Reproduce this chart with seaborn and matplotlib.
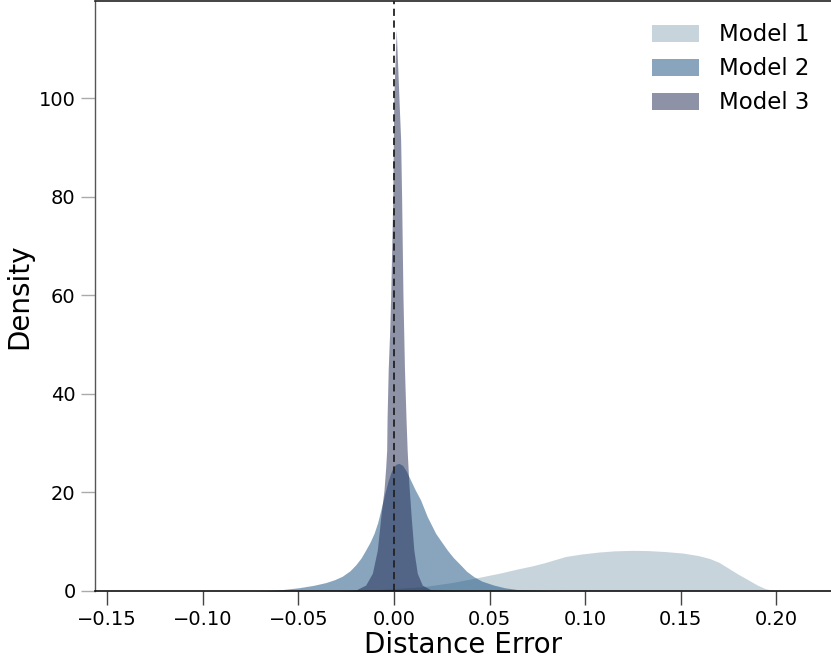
import matplotlib
matplotlib.use("Agg")
import matplotlib.pyplot as plt
import seaborn as sns
import pandas as pd
from matplotlib.patches import Patch

# ---- data (density curves) ----
model_names = ["Model 1", "Model 2", "Model 3"]

m1_x = [-0.03, -0.015, 0.0, 0.0157, 0.03, 0.0435, 0.055, 0.0650, 0.0723, 0.0784, 0.0897,
        0.098, 0.107, 0.1155, 0.1245, 0.133, 0.142, 0.151, 0.159, 0.165, 0.170, 0.175,
        0.18, 0.1855, 0.190, 0.194, 0.1994]
m1_y = [0.0, 0.15, 0.5, 0.9, 1.7, 2.7, 3.6, 4.5, 5.1, 5.7, 7.0,
        7.5, 7.9, 8.15, 8.25, 8.2, 8.0, 7.7, 7.2, 6.6, 5.8, 4.6,
        3.4, 2.2, 1.2, 0.5, 0.0]

m2_x = [-0.075, -0.067, -0.058, -0.0496, -0.042, -0.0357, -0.031, -0.027, -0.023, -0.020,
        -0.0172, -0.0148, -0.0125, -0.0104, -0.0085, -0.0069, -0.0055, -0.0043, -0.003,
        -0.0017, -0.0005, 0.001, 0.0026, 0.0045, 0.0065, 0.0087, 0.011, 0.0139, 0.0174,
        0.0218, 0.025, 0.0279, 0.031, 0.0348, 0.038, 0.0418, 0.046, 0.0522, 0.058, 0.0644,
        0.078, 0.09]
m2_y = [0.0, 0.05, 0.3, 0.67, 1.15, 1.7, 2.3, 3.0, 4.1, 5.3,
        6.7, 8.3, 9.9, 11.7, 13.9, 16.4, 18.6, 20.5, 22.4,
        23.9, 25.0, 25.7, 25.9, 25.5, 24.3, 22.5, 20.6, 18.5, 15.1,
        11.7, 9.9, 8.3, 6.8, 5.3, 4.0, 2.9, 2.0, 1.2, 0.65, 0.3,
        0.1, 0.0]

m3_x = [-0.030, -0.020, -0.0148, -0.0113, -0.0087, -0.0069, -0.0052, -0.0043, -0.0038,
        -0.0036, -0.0030, -0.0022, -0.0017, -0.0006, -0.0001, 0.0012, 0.0026, 0.0035,
        0.0040, 0.0047, 0.0055, 0.0063, 0.0069, 0.0078, 0.009, 0.0104, 0.0122, 0.0148,
        0.019, 0.03, 0.05]
m3_y = [0.0, 0.2, 1.2, 3.6, 8.3, 15.0, 20.5, 25.2, 28.6,
        35.0, 45.0, 53.0, 60.0, 80.0, 100.0, 113.9, 100.0, 91.5,
        80.0, 60.0, 45.0, 35.0, 28.6, 21.8, 15.1, 8.3, 3.6, 1.2,
        0.3, 0.1, 0.0]

xticks = [-0.15, -0.10, -0.05, 0.00, 0.05, 0.10, 0.15, 0.20]
yticks = [0, 20, 40, 60, 80, 100]

colors = ["#91abb9", "#154d7f", "#1d2751"]
alpha = 0.5

df = pd.concat([
    pd.DataFrame({"x": m1_x, "y": m1_y, "model": model_names[0]}),
    pd.DataFrame({"x": m2_x, "y": m2_y, "model": model_names[1]}),
    pd.DataFrame({"x": m3_x, "y": m3_y, "model": model_names[2]}),
])

sns.set_style("ticks")
plt.rcParams["font.family"] = ["DejaVu Sans"]
plt.rcParams["text.color"] = "black"
plt.rcParams["axes.labelcolor"] = "black"
plt.rcParams["xtick.labelcolor"] = "black"
plt.rcParams["ytick.labelcolor"] = "black"

fig = plt.figure(figsize=(8.31, 6.60), dpi=100)
ax = fig.add_axes([95 / 831, 69 / 660, 1 - 95 / 831, 590 / 660])

sns.lineplot(data=df, x="x", y="y", hue="model", palette=colors, linewidth=0,
             legend=False, ax=ax, sort=False)
for name, c in zip(model_names, colors):
    sub = df[df["model"] == name]
    ax.fill_between(sub["x"], 0, sub["y"], color=c, alpha=alpha, linewidth=0)

ax.axvline(0.0, color="#222222", linestyle=(0, (4, 2.5)), linewidth=1.3)

ax.set_xlim(-0.1563, 0.2285)
ax.set_ylim(0, 119.7)
ax.set_xticks(xticks)
ax.set_yticks(yticks)
ax.set_xticklabels([f"{t:.2f}".replace("-", "\u2212") for t in xticks])
ax.tick_params(axis="both", labelsize=14, length=10, width=1, direction="out", pad=4)
ax.tick_params(axis="y", color="#aaaaaa")
ax.tick_params(axis="x", color="#444444")
ax.set_xlabel("Distance Error", fontsize=20, labelpad=1)
ax.set_ylabel("Density", fontsize=20, labelpad=4)

ax.spines["right"].set_visible(False)
ax.spines["left"].set_color("#555555")
ax.spines["left"].set_linewidth(1.0)
ax.spines["bottom"].set_color("#111111")
ax.spines["bottom"].set_linewidth(1.2)
ax.spines["top"].set_color("#222222")
ax.spines["top"].set_linewidth(1.2)

handles = [Patch(facecolor=c, alpha=alpha, edgecolor="none") for c in colors]
ax.legend(handles, model_names, loc="upper right", frameon=False, fontsize=16.5,
          handlelength=2.05, handleheight=0.75, handletextpad=0.85, labelspacing=0.48,
          borderaxespad=0.0, bbox_to_anchor=(0.983, 0.978))

fig.savefig("out.png", dpi=100)
